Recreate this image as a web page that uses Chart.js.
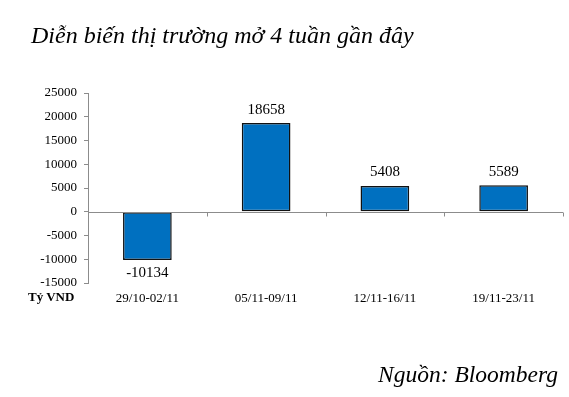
<!DOCTYPE html>
<html>
<head>
<meta charset="utf-8">
<script src="https://cdn.jsdelivr.net/npm/chart.js@4.4.0/dist/chart.umd.min.js"></script>
<style>
  body { margin: 0; background: #fff; }
  #wrap { position: relative; width: 569px; height: 397px; }
  #title { position: absolute; left: 31px; top: 22px; font: italic 24px "Liberation Serif", serif; color: #000; white-space: nowrap; }
  #source { position: absolute; left: 378px; top: 361px; font: italic 23.5px "Liberation Serif", serif; color: #000; white-space: nowrap; }
  #unit { position: absolute; left: 28px; top: 289px; font: bold 13px "Liberation Serif", serif; color: #000; }
  canvas { position: absolute; left: 0; top: 0; }
</style>
</head>
<body>
<div id="wrap">
  <canvas id="barChart" width="569" height="397"></canvas>
  <div id="title">Diễn biến thị trường mở 4 tuần gần đây</div>
  <div id="unit">Tỷ VND</div>
  <div id="source">Nguồn: Bloomberg</div>
</div>
<script>
const weeks = ['29/10-02/11', '05/11-09/11', '12/11-16/11', '19/11-23/11'];
const netValues = [-10134, 18658, 5408, 5589];
const yMin = -15000;
const yMax = 25000;
const yStep = 5000;

// zero line, category ticks and value labels
const extras = {
    id: 'extras',
    afterDatasetsDraw(chart) {
        const ctx = chart.ctx;
        const x = chart.scales.x;
        const y = chart.scales.y;
        const zy = Math.round(y.getPixelForValue(0)) + 0.5;
        ctx.save();
        ctx.strokeStyle = '#8c8c8c';
        ctx.lineWidth = 1;
        ctx.beginPath();
        ctx.moveTo(x.left, zy);
        ctx.lineTo(x.right, zy);
        for (let i = 0; i <= weeks.length; i++) {
            const px = Math.round(x.getPixelForValue(i - 0.5)) + 0.5;
            ctx.moveTo(px, zy);
            ctx.lineTo(px, zy + 4);
        }
        ctx.stroke();

        ctx.fillStyle = '#000';
        ctx.font = '15px "Liberation Serif", serif';
        ctx.textAlign = 'center';
        const meta = chart.getDatasetMeta(0);
        meta.data.forEach((bar, i) => {
            const v = netValues[i];
            if (v >= 0) {
                ctx.textBaseline = 'bottom';
                ctx.fillText(String(v), bar.x, bar.y - 6);
            } else {
                ctx.textBaseline = 'top';
                ctx.fillText(String(v), bar.x, bar.y + 6);
            }
        });
        ctx.restore();
    }
};

const ctx = document.getElementById('barChart').getContext('2d');
new Chart(ctx, {
    type: 'bar',
    data: {
        labels: weeks,
        datasets: [{
            data: netValues,
            backgroundColor: '#0070C0',
            borderColor: '#111',
            borderWidth: 1.5,
            borderSkipped: false,
            categoryPercentage: 1,
            barPercentage: 0.41
        }]
    },
    options: {
        responsive: false,
        animation: false,
        layout: { padding: { top: 93, right: 6, bottom: 84, left: 0 } },
        plugins: { legend: { display: false }, tooltip: { enabled: false } },
        scales: {
            x: {
                grid: { display: false, drawTicks: false },
                border: { display: false },
                ticks: {
                    color: '#000',
                    padding: 8,
                    font: { family: 'Liberation Serif', size: 13 }
                },
                afterFit(scale) { scale.height = 30; }
            },
            y: {
                min: yMin,
                max: yMax,
                grid: { drawOnChartArea: false, color: '#8c8c8c', tickLength: 4 },
                border: { color: '#8c8c8c' },
                ticks: {
                    stepSize: yStep,
                    color: '#000',
                    padding: 7,
                    font: { family: 'Liberation Serif', size: 13 },
                    callback: v => String(v)
                },
                afterFit(scale) { scale.width = 88; }
            }
        }
    },
    plugins: [extras]
});
</script>
</body>
</html>
